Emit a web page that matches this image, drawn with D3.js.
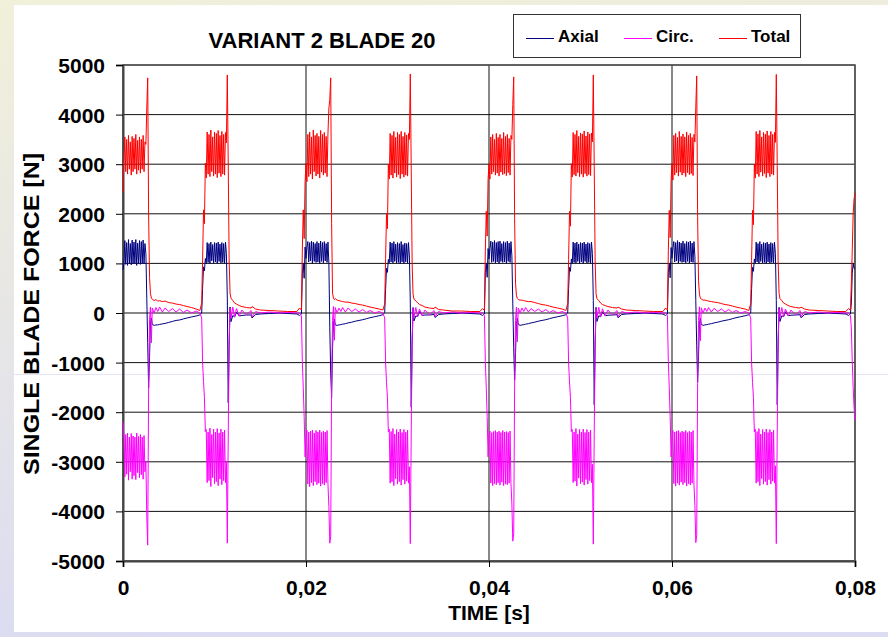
<!DOCTYPE html>
<html>
<head>
<meta charset="utf-8">
<script src="https://cdn.jsdelivr.net/npm/d3@7"></script>
<style>
  body { margin: 0; background: #fff; }
  text { font-family: "Liberation Sans", Arial, sans-serif; font-weight: bold; fill: #000; }
</style>
</head>
<body>
<script>
// time in ms (4 periods of 20 ms)
var timeMs = [
  0,0.1,0.2,0.3,0.4,0.5,0.6,0.7,0.8,0.9,1,1.1,1.2,1.3,1.4,1.5,1.6,1.7,1.8,1.9,2,2.1,2.2,2.3,2.4,
  2.5,2.6,2.7,2.8,2.9,3,3.1,3.2,3.4,3.6,3.8,4,4.3,4.6,5,5.4,5.8,6.2,6.6,7,7.5,8,8.4,8.6,8.7,8.8,8.9,9,
  9.1,9.2,9.3,9.4,9.5,9.6,9.7,9.8,9.9,10,10.1,10.2,10.3,10.4,10.5,10.6,10.7,10.8,10.9,11,11.1,11.2,
  11.3,11.4,11.5,11.6,11.7,11.8,12,12.2,12.4,12.7,13,13.5,14,14.1,14.5,15,16,17,18,19,19.3,19.5,19.6,19.7,19.8,19.9,

  20,20.1,20.2,20.3,20.4,20.5,20.6,20.7,20.8,20.9,21,21.1,21.2,21.3,21.4,21.5,21.6,21.7,21.8,21.9,22,22.1,22.2,22.3,22.4,
  22.5,22.6,22.7,22.8,22.9,23,23.1,23.2,23.4,23.6,23.8,24,24.3,24.6,25,25.4,25.8,26.2,26.6,27,27.5,28,28.4,28.6,28.7,28.8,28.9,29,
  29.1,29.2,29.3,29.4,29.5,29.6,29.7,29.8,29.9,30,30.1,30.2,30.3,30.4,30.5,30.6,30.7,30.8,30.9,31,31.1,31.2,
  31.3,31.4,31.5,31.6,31.7,31.8,32,32.2,32.4,32.7,33,33.5,34,34.1,34.5,35,36,37,38,39,39.3,39.5,39.6,39.7,39.8,39.9,

  40,40.1,40.2,40.3,40.4,40.5,40.6,40.7,40.8,40.9,41,41.1,41.2,41.3,41.4,41.5,41.6,41.7,41.8,41.9,42,42.1,42.2,42.3,42.4,
  42.5,42.6,42.7,42.8,42.9,43,43.1,43.2,43.4,43.6,43.8,44,44.3,44.6,45,45.4,45.8,46.2,46.6,47,47.5,48,48.4,48.6,48.7,48.8,48.9,49,
  49.1,49.2,49.3,49.4,49.5,49.6,49.7,49.8,49.9,50,50.1,50.2,50.3,50.4,50.5,50.6,50.7,50.8,50.9,51,51.1,51.2,
  51.3,51.4,51.5,51.6,51.7,51.8,52,52.2,52.4,52.7,53,53.5,54,54.1,54.5,55,56,57,58,59,59.3,59.5,59.6,59.7,59.8,59.9,

  60,60.1,60.2,60.3,60.4,60.5,60.6,60.7,60.8,60.9,61,61.1,61.2,61.3,61.4,61.5,61.6,61.7,61.8,61.9,62,62.1,62.2,62.3,62.4,
  62.5,62.6,62.7,62.8,62.9,63,63.1,63.2,63.4,63.6,63.8,64,64.3,64.6,65,65.4,65.8,66.2,66.6,67,67.5,68,68.4,68.6,68.7,68.8,68.9,69,
  69.1,69.2,69.3,69.4,69.5,69.6,69.7,69.8,69.9,70,70.1,70.2,70.3,70.4,70.5,70.6,70.7,70.8,70.9,71,71.1,71.2,
  71.3,71.4,71.5,71.6,71.7,71.8,72,72.2,72.4,72.7,73,73.5,74,74.1,74.5,75,76,77,78,79,79.3,79.5,79.6,79.7,79.8,79.9,
  80
];

var axial = [
  870,1000,1460,980,1420,960,1480,1000,1400,970,1470,990,1430,1000,1480,960,1410,1000,1460,980,1440,1000,1470,990,1400,
  1200,300,-600,-1510,-900,-200,-100,-230,-250,-240,-240,-230,-220,-210,-190,-170,-150,-140,-120,-100,-80,-60,-40,0,500,930,850,1100,
  1000,1420,1020,1400,1000,1430,1050,1380,1000,1420,1030,1410,1000,1430,1040,1390,1010,1420,1020,1400,1000,1430,
  1200,300,-1810,-700,120,-175,-50,-80,20,-60,-50,-40,-40,-100,-30,-20,-10,0,-10,-20,-50,-20,800,1000,700,1330,

  1100,1330,1440,1030,1420,1050,1450,1000,1430,1040,1400,1020,1440,1030,1410,1000,1450,1040,1420,1010,1440,1050,1400,1020,1430,
  1000,-300,-1210,-1710,-700,-220,-120,-240,-250,-240,-235,-225,-215,-200,-185,-165,-150,-135,-115,-95,-75,-55,-35,10,480,900,820,1080,
  1010,1430,1030,1410,1010,1440,1040,1390,1010,1420,1020,1400,1000,1440,1030,1380,1000,1410,1030,1400,1010,1420,
  1150,200,-1900,-650,110,-160,-60,-70,30,-50,-40,-40,-30,-90,-30,-20,-10,0,-10,-20,-50,-20,820,1000,720,1300,

  1090,1300,1450,1020,1430,1040,1460,1010,1420,1030,1440,1000,1450,1040,1400,1020,1440,1030,1420,1000,1450,1040,1410,1020,1440,
  1150,200,-700,-1350,-800,-210,-110,-230,-250,-240,-235,-225,-215,-200,-185,-165,-150,-135,-115,-95,-75,-55,-35,0,490,920,840,1090,
  1000,1430,1020,1410,1010,1430,1040,1390,1000,1420,1030,1410,1000,1430,1040,1390,1010,1420,1020,1400,1000,1430,
  1200,250,-1850,-680,115,-170,-55,-75,25,-55,-45,-40,-35,-95,-30,-20,-10,0,-10,-20,-50,-20,810,1000,710,1320,

  1100,1320,1440,1030,1420,1050,1460,1010,1430,1040,1410,1020,1450,1030,1400,1010,1440,1040,1430,1010,1450,1030,1410,1020,1440,
  1150,250,-650,-1400,-850,-210,-110,-230,-250,-240,-235,-225,-215,-200,-185,-165,-150,-135,-115,-95,-75,-55,-35,0,490,920,840,1090,
  1010,1430,1030,1400,1000,1440,1040,1390,1010,1420,1020,1410,1000,1430,1030,1390,1010,1420,1020,1400,1010,1430,
  1200,250,-1850,-680,115,-170,-55,-75,25,-55,-45,-40,-35,-95,-30,-20,-10,0,-10,-20,-50,-20,200,800,1000,900,
  900
];

var circ = [
  -2190,-2500,-3300,-2450,-3250,-2420,-3370,-2500,-3200,-2430,-3350,-2480,-3280,-2500,-3360,-2420,-3220,-2490,-3320,-2450,-3260,-2500,-3350,-2470,-3200,
  -3000,-4110,-4680,-1500,-140,120,-600,100,0,110,30,120,20,100,30,90,20,80,10,60,0,40,0,-100,-1000,-1380,-1700,-2390,
  -2350,-3420,-2400,-3380,-2320,-3500,-2450,-3320,-2340,-3440,-2400,-3400,-2330,-3480,-2420,-3350,-2340,-3460,-2400,-3380,-2360,-3420,
  -3000,-4640,-2500,-600,100,-100,120,-80,90,-60,60,-40,50,-80,30,0,20,0,10,0,0,-50,-980,-1500,-2090,-2900,

  -2500,-2360,-3450,-2400,-3500,-2380,-3420,-2360,-3480,-2420,-3400,-2370,-3460,-2400,-3430,-2360,-3490,-2410,-3440,-2380,-3470,-2400,-3420,-2370,-3450,
  -3900,-4640,-4500,-1400,-150,130,-550,110,0,100,30,110,20,100,30,80,20,70,10,50,0,30,0,-100,-1000,-1400,-1700,-2400,
  -2340,-3430,-2390,-3400,-2330,-3480,-2440,-3340,-2350,-3450,-2400,-3400,-2340,-3470,-2410,-3360,-2350,-3450,-2400,-3390,-2360,-3430,
  -3100,-4650,-2400,-550,90,-90,110,-70,80,-60,60,-40,50,-70,30,0,20,0,10,0,0,-50,-980,-1500,-2090,-2900,

  -2480,-2380,-3430,-2410,-3480,-2390,-3440,-2370,-3460,-2400,-3420,-2380,-3470,-2410,-3410,-2370,-3480,-2400,-3450,-2390,-3460,-2410,-3430,-2380,-3440,
  -3850,-4600,-4450,-1450,-150,120,-580,100,0,100,30,110,20,90,30,80,20,70,10,50,0,30,0,-100,-1000,-1390,-1700,-2390,
  -2350,-3420,-2400,-3390,-2330,-3490,-2440,-3330,-2350,-3440,-2400,-3410,-2340,-3470,-2410,-3360,-2350,-3450,-2400,-3380,-2360,-3420,
  -3050,-4660,-2450,-580,95,-95,115,-75,85,-60,60,-40,50,-75,30,0,20,0,10,0,0,-50,-980,-1500,-2090,-2900,

  -2490,-2370,-3440,-2400,-3490,-2380,-3430,-2370,-3470,-2410,-3410,-2380,-3460,-2400,-3420,-2370,-3490,-2410,-3440,-2380,-3470,-2400,-3430,-2370,-3450,
  -3880,-4630,-4480,-1420,-150,125,-560,105,0,100,30,110,20,95,30,80,20,70,10,50,0,30,0,-100,-1000,-1400,-1700,-2400,
  -2340,-3430,-2390,-3400,-2330,-3480,-2440,-3340,-2350,-3450,-2400,-3400,-2340,-3470,-2410,-3360,-2350,-3450,-2400,-3390,-2360,-3430,
  -3080,-4650,-2420,-560,90,-90,110,-70,80,-60,60,-40,50,-70,30,0,20,0,10,0,0,-50,-300,-980,-1500,-1900,
  -2160
];

var total = [
  2440,3100,3550,2850,3500,2800,3580,2900,3450,2780,3560,2850,3520,2900,3600,2800,3480,2880,3550,2820,3500,2900,3580,2850,3450,
  3400,4130,4740,2000,720,400,300,280,250,270,240,250,230,240,210,200,180,170,150,130,110,80,50,200,1070,2080,1800,3020,
  2720,3650,2800,3600,2750,3690,2850,3550,2760,3650,2800,3620,2730,3680,2820,3580,2750,3660,2800,3600,2780,3640,
  3430,4800,3000,1070,400,300,250,200,180,150,130,110,100,130,80,60,50,40,30,30,100,60,1270,2080,1500,2650,

  3020,2650,3600,2750,3650,2800,3550,2700,3690,2850,3580,2760,3620,2800,3560,2720,3680,2840,3600,2780,3640,2820,3560,2750,3620,
  4130,4300,4740,1800,400,300,270,290,260,250,240,230,220,220,200,190,170,160,140,120,100,80,60,180,1100,2000,1700,3000,
  2700,3620,2780,3580,2720,3660,2820,3540,2740,3640,2790,3600,2710,3660,2800,3560,2740,3640,2780,3590,2760,3620,
  3500,4820,2900,1000,380,280,240,210,170,150,120,100,90,120,70,60,40,40,30,30,90,50,1250,2050,1550,2700,

  3000,2700,3550,2800,3600,2850,3500,2780,3620,2820,3540,2760,3600,2840,3520,2790,3640,2810,3560,2770,3600,2830,3520,2780,3580,
  3500,4200,4760,1900,600,350,290,270,260,260,250,240,230,230,210,190,170,160,140,120,100,80,50,190,1080,2050,1750,3010,
  2740,3640,2790,3600,2760,3680,2830,3560,2750,3630,2800,3610,2740,3670,2810,3570,2760,3650,2790,3610,2770,3630,
  3450,4800,2950,1050,390,290,250,200,170,150,130,110,100,120,80,60,50,40,30,30,100,60,1260,2070,1520,2680,

  3010,2680,3580,2780,3620,2830,3540,2760,3660,2840,3560,2780,3610,2820,3550,2750,3650,2830,3580,2790,3620,2810,3540,2770,3600,
  3450,4150,4780,1950,650,380,300,280,260,260,250,240,230,220,210,190,170,160,140,120,100,80,50,190,1060,2070,1780,3000,
  2720,3660,2800,3610,2750,3680,2840,3550,2760,3640,2810,3610,2730,3670,2820,3580,2750,3660,2800,3600,2780,3640,
  3440,4810,2980,1060,400,290,250,200,180,150,130,110,100,120,80,60,50,40,30,30,90,60,600,1270,2000,2300,
  2420
];

var seriesNames = ["Axial", "Circ.", "Total"];
var seriesColors = ["#000080", "#ff00ff", "#ff0000"];
var yTicks = [-5000, -4000, -3000, -2000, -1000, 0, 1000, 2000, 3000, 4000, 5000];
var xTicks = [0, 20, 40, 60, 80];

[axial, circ, total].forEach(function (s, i) {
    if (s.length !== timeMs.length) throw new Error(seriesNames[i] + " length " + s.length + " vs " + timeMs.length);
});

var W = 888, H = 637;
var svg = d3.select("body").append("svg").attr("width", W).attr("height", H);

var defs = svg.append("defs");
var grad = defs.append("linearGradient").attr("id", "bg").attr("x1", 0).attr("y1", 0).attr("x2", 0.15).attr("y2", 1);
grad.append("stop").attr("offset", "0%").attr("stop-color", "#f1f0da");
grad.append("stop").attr("offset", "100%").attr("stop-color", "#dcdcf2");

svg.append("rect").attr("width", W).attr("height", H).attr("fill", "url(#bg)");
svg.append("rect").attr("x", 14).attr("y", 5).attr("width", W - 14).attr("height", 627).attr("fill", "#fff");
svg.append("line").attr("x1", 0).attr("x2", W).attr("y1", 374.5).attr("y2", 374.5)
    .attr("stroke", "#e6e4f3").attr("stroke-width", 1);

var x = d3.scaleLinear().domain([0, 80]).range([123, 855]);
var y = d3.scaleLinear().domain([-5000, 5000]).range([561, 65]);

// grid
var grid = svg.append("g");
grid.selectAll("line.h").data(yTicks).enter().append("line")
    .attr("x1", x(0)).attr("x2", x(80))
    .attr("y1", function (d) { return y(d); }).attr("y2", function (d) { return y(d); })
    .attr("stroke", "#111").attr("stroke-width", 1);
grid.selectAll("line.v").data(xTicks).enter().append("line")
    .attr("y1", y(5000)).attr("y2", y(-5000))
    .attr("x1", function (d) { return x(d); }).attr("x2", function (d) { return x(d); })
    .attr("stroke", "#111").attr("stroke-width", 1);
svg.append("rect").attr("x", x(0)).attr("y", y(5000))
    .attr("width", x(80) - x(0)).attr("height", y(-5000) - y(5000))
    .attr("fill", "none").attr("stroke", "#555").attr("stroke-width", 1.5);

// axes
var yAxis = d3.axisLeft(y).tickValues(yTicks).tickSize(7).tickPadding(11)
    .tickFormat(function (d) { return String(d); });
var gy = svg.append("g").attr("transform", "translate(" + x(0) + ",0)").call(yAxis);
gy.select(".domain").attr("stroke", "#444").attr("stroke-width", 2);
gy.selectAll(".tick line").attr("stroke", "#000");
gy.selectAll(".tick text").style("font-size", "21px").attr("dy", "0.36em");

var xAxis = d3.axisBottom(x).tickValues(xTicks).tickSize(6).tickPadding(13)
    .tickFormat(function (d) { return d === 0 ? "0" : (d / 1000).toFixed(2).replace(".", ","); });
var gx = svg.append("g").attr("transform", "translate(0," + y(-5000) + ")").call(xAxis);
gx.select(".domain").attr("stroke", "#444").attr("stroke-width", 2);
gx.selectAll(".tick line").attr("stroke", "#000");
gx.selectAll(".tick text").style("font-size", "21px").attr("dy", "0.72em");

// series
var line = d3.line()
    .x(function (d, i) { return x(timeMs[i]); })
    .y(function (d) { return y(d); });

svg.append("g").selectAll("path")
    .data([axial, circ, total])
    .enter().append("path")
    .attr("d", line)
    .attr("fill", "none")
    .attr("stroke", function (d, i) { return seriesColors[i]; })
    .attr("stroke-width", 1)
    .attr("stroke-linejoin", "miter");

// titles
svg.append("text").attr("x", 322).attr("y", 48).attr("text-anchor", "middle")
    .style("font-size", "22px").text("VARIANT 2 BLADE 20");
svg.append("text").attr("x", 489).attr("y", 620).attr("text-anchor", "middle")
    .style("font-size", "21px").text("TIME [s]");
svg.append("text").attr("transform", "translate(39,314) rotate(-90)").attr("text-anchor", "middle")
    .style("font-size", "22px").attr("textLength", 322).attr("lengthAdjust", "spacingAndGlyphs")
    .text("SINGLE BLADE FORCE [N]");

// legend
var legend = svg.append("g");
legend.append("rect").attr("x", 513.5).attr("y", 14.5).attr("width", 287).attr("height", 43)
    .attr("fill", "#fff").attr("stroke", "#333").attr("stroke-width", 1);
var legX = [526, 624, 719];
seriesNames.forEach(function (name, i) {
    legend.append("line").attr("x1", legX[i]).attr("x2", legX[i] + 28)
        .attr("y1", 38.5).attr("y2", 38.5)
        .attr("stroke", seriesColors[i]).attr("stroke-width", 1);
    legend.append("text").attr("x", legX[i] + 32).attr("y", 42)
        .style("font-size", "17px").text(name);
});
</script>
</body>
</html>
